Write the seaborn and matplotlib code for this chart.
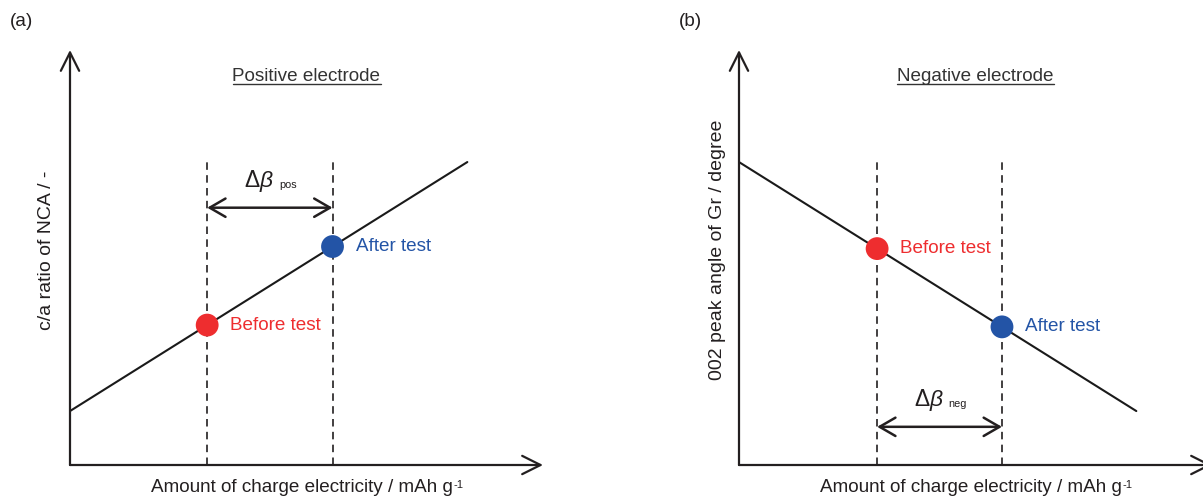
import matplotlib
matplotlib.use("Agg")
import matplotlib.pyplot as plt
import seaborn as sns
import pandas as pd
from matplotlib.lines import Line2D

sns.set_theme(style="white")
plt.rcParams["font.family"] = ["Liberation Sans", "DejaVu Sans"]
plt.rcParams["mathtext.fontset"] = "custom"
plt.rcParams["mathtext.rm"] = "Liberation Sans"
plt.rcParams["mathtext.it"] = "Liberation Sans:italic"

# Schematic data (arbitrary units)
pos_line_x = [0.0, 8.4]
pos_line_y = [1.3, 7.3]
neg_line_x = [0.0, 8.4]
neg_line_y = [7.3, 1.3]
state_labels = ["Before test", "After test"]
pos_state_x = [2.9, 5.55]
neg_state_x = [2.92, 5.56]
panel_tags = ["(a)", "(b)"]
panel_titles = ["Positive electrode", "Negative electrode"]
y_labels = ["c/a ratio of NCA / -", "002 peak angle of Gr / degree"]
x_label = "Amount of charge electricity / mAh g"
x_label_sup = "-1"
delta_subs = ["pos", "neg"]

RED = "#ee2d2f"
BLUE = "#2354a6"
INK = "#231f20"
FS = 13.6

W, H = 1203, 497
fig = plt.figure(figsize=(W / 100, H / 100), dpi=100)


def px_axes(left, bottom, width, height):
    return fig.add_axes([left / W, 1 - bottom / H, width / W, height / H])


def interp(xs, ys, x):
    return ys[0] + (ys[1] - ys[0]) * (x - xs[0]) / (xs[1] - xs[0])


panels = [
    dict(left=70, lx=pos_line_x, ly=pos_line_y, sx=pos_state_x,
         arrow_y=6.2, delta_y=6.85, ylab_dx=-23),
    dict(left=739, lx=neg_line_x, ly=neg_line_y, sx=neg_state_x,
         arrow_y=0.92, delta_y=1.57, ylab_dx=-21),
]

for i, p in enumerate(panels):
    ax = px_axes(p["left"], 465, 473, 415)

    # Linear relation
    df_line = pd.DataFrame({"x": p["lx"], "y": p["ly"]})
    sns.lineplot(data=df_line, x="x", y="y", ax=ax, color="#1a1a1a", lw=1.5,
                 legend=False)

    # State points
    sy = [interp(p["lx"], p["ly"], xv) for xv in p["sx"]]
    df_pts = pd.DataFrame({"x": p["sx"], "y": sy, "state": state_labels})
    sns.scatterplot(data=df_pts, x="x", y="y", hue="state",
                    palette={state_labels[0]: RED, state_labels[1]: BLUE},
                    s=270, edgecolor="none", ax=ax, legend=False, zorder=5,
                    clip_on=False)
    ax.set_xlim(0, 10)
    ax.set_ylim(0, 10)
    ax.axis("off")

    # Axes with open arrowheads
    for tip in [(10, 0), (0, 10)]:
        ax.annotate("", xy=tip, xytext=(0, 0), xycoords="data",
                    arrowprops=dict(arrowstyle="->,head_length=1.1,head_width=0.55",
                                    lw=1.6, color=INK, shrinkA=0, shrinkB=0),
                    annotation_clip=False)

    # Dashed guides
    for xv in p["sx"]:
        ax.plot([xv, xv], [0, 7.35], ls=(0, (4.5, 3.2)), color=INK, lw=1.2)

    for xv, yv, lab, col in zip(p["sx"], sy, state_labels, [RED, BLUE]):
        ax.annotate(lab, xy=(xv, yv), xytext=(23, 0), textcoords="offset pixels",
                    ha="left", va="center", fontsize=FS, color=col)

    # Double-headed difference arrow
    ax.annotate("", xy=(p["sx"][1], p["arrow_y"]), xytext=(p["sx"][0], p["arrow_y"]),
                arrowprops=dict(arrowstyle="<->,head_length=0.95,head_width=0.55",
                                lw=1.8, color=INK, shrinkA=0, shrinkB=0))
    mid = (p["sx"][0] + p["sx"][1]) / 2
    ax.annotate(r"$\Delta\mathit{\beta}$", xy=(mid, p["delta_y"]), xytext=(4, 0),
                textcoords="offset pixels", ha="right", va="center",
                fontsize=16.5, color=INK)
    ax.annotate(delta_subs[i], xy=(mid, p["delta_y"]), xytext=(9, -4),
                textcoords="offset pixels", ha="left", va="center",
                fontsize=7.8, color=INK)

    # Titles and labels
    ttl = ax.text(5.0, (465 - 77) / 41.5, panel_titles[i], ha="center",
                  va="center", fontsize=FS, color="#333333")
    ax.text(p["ylab_dx"] / 47.3, 5.18, y_labels[i], rotation=90, ha="center",
            va="center", fontsize=14, color=INK)
    xl = ax.text(4.9, -23 / 41.5, x_label, ha="center", va="center",
                 fontsize=FS, color=INK)
    ax.annotate(x_label_sup, xy=(1.0, 0.5), xycoords=xl, xytext=(1, 3),
                textcoords="offset pixels", ha="left", va="center",
                fontsize=8, color=INK, annotation_clip=False)
    fig.text((p["left"] - 60) / W, 1 - 22 / H, panel_tags[i], ha="left",
             va="center", fontsize=FS, color=INK)

    # Underline beneath the panel heading
    fig.canvas.draw()
    bb = ttl.get_window_extent()
    fig.add_artist(Line2D([bb.x0 / W, bb.x1 / W],
                          [(bb.y0 + 1) / H, (bb.y0 + 1) / H],
                          color="#333333", lw=1.0))

fig.savefig("out.png", dpi=100)
